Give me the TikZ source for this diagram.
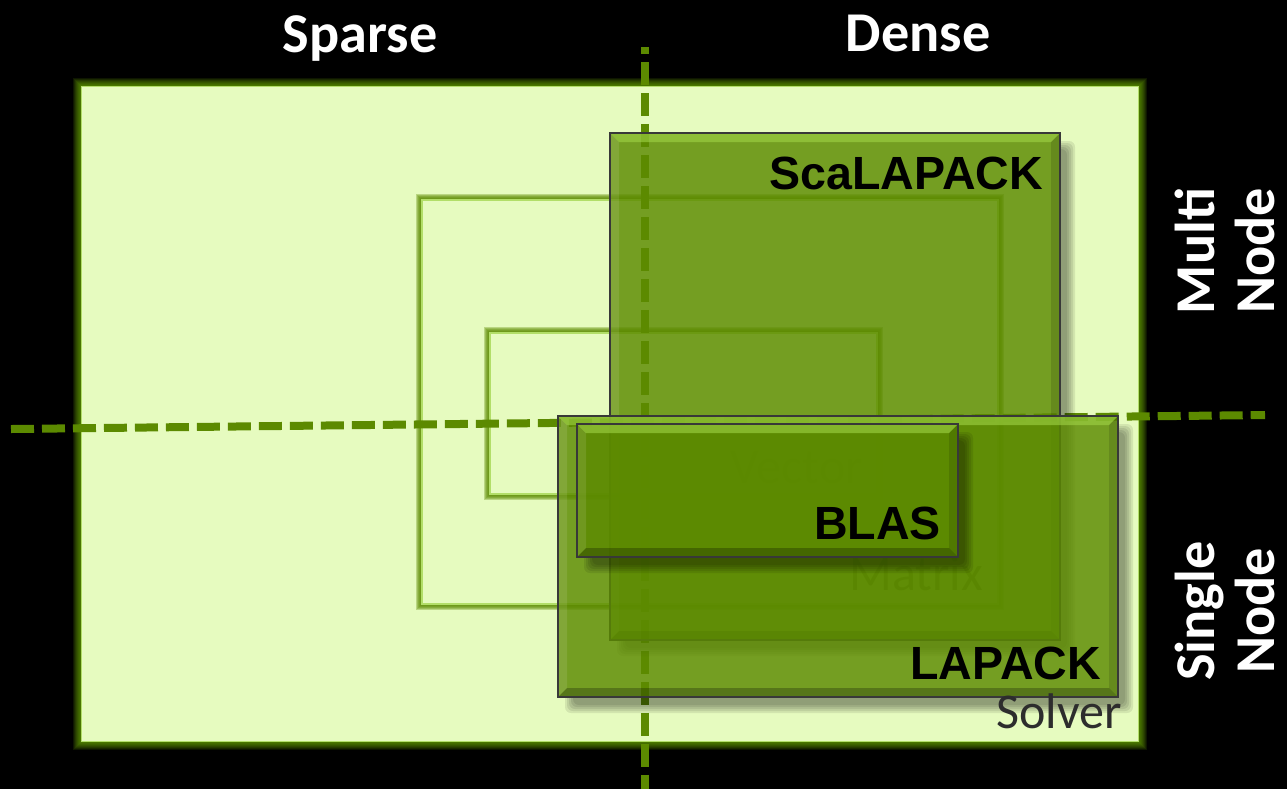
\documentclass[tikz,border=0pt]{standalone}
\usepackage{fontspec}
\newfontfamily\calfont{Carlito}
\newfontfamily\arialfont{Liberation Sans}
\usetikzlibrary{calc, fit}
\definecolor{nvgreen}{RGB}{118,185,0}
\definecolor{nvdark}{RGB}{92,138,0}
\definecolor{palegreen}{RGB}{230,251,191}
\definecolor{rimline}{RGB}{178,222,104}
\definecolor{bevellight}{RGB}{160,212,70}
\definecolor{labelgray}{RGB}{45,45,45}

% soft glow round a named box: stacked strokes of growing width
\newcommand\glowrect[4][.12]{%
  \foreach \w in {1,...,#4}
    \draw[#3, opacity=#1, line width=0.04cm*\w] (#2.north west) rectangle (#2.south east);
}

% soft drop shadow (kept outside the box), then the glass box itself
\newcommand\glassbox[3]{%
  \begin{scope}[even odd rule]
    \clip (-20,-20) rectangle (1310,810) #2 rectangle #3;
    \foreach \k in {0,2,4,6,8}
      \fill[black, opacity=.085, rounded corners=0.12cm]
        ($#2+(15-\k,16-\k)$) rectangle ($#3+(7+\k,8+\k)$);
  \end{scope}
  \node[glass, fit={#2 #3}] (#1) {};
}

\begin{document}
\begin{tikzpicture}[
    x=0.02cm, y=-0.02cm,
    area/.style={inner sep=0pt},
    lightfill/.style={fill=palegreen},
    glass/.style={draw=black!78, line width=1.4pt, fill=nvdark, fill opacity=.82,
      inner sep=0pt,
      path picture={
        \coordinate (nw) at (path picture bounding box.north west);
        \coordinate (ne) at (path picture bounding box.north east);
        \coordinate (se) at (path picture bounding box.south east);
        \coordinate (sw) at (path picture bounding box.south west);
        \fill[bevellight, opacity=.6] (nw) -- (ne) -- ($(ne)+(-9,9)$) -- ($(nw)+(9,9)$) -- cycle;
        \fill[white, opacity=.1] (nw) -- ($(nw)+(9,9)$) -- ($(sw)+(9,-9)$) -- (sw) -- cycle;
        \fill[black, opacity=.25] (sw) -- (se) -- ($(se)+(-9,-9)$) -- ($(sw)+(9,-9)$) -- cycle;
        \fill[black, opacity=.12] (ne) -- (se) -- ($(se)+(-9,-9)$) -- ($(ne)+(-9,9)$) -- cycle;
      }},
    boxlabel/.style={anchor=base east, inner sep=0pt, text=black,
      font=\arialfont\bfseries\fontsize{26.5}{30}\selectfont},
    faintlabel/.style={anchor=base east, inner sep=0pt, text=labelgray,
      font=\calfont\fontsize{28.5}{32}\selectfont},
    axislabel/.style={inner sep=0pt, text=white, align=center,
      font=\calfont\bfseries\fontsize{32}{34}\selectfont},
    axisline/.style={draw=nvdark, line width=0.16cm, dash pattern=on 0.46cm off 0.16cm}
]
\useasboundingbox (0,0) rectangle (1287,789);
\fill[black] (0,0) rectangle (1287,789);

% solver region with its green halo
\path node[area, fit={(82,87) (1138,741)}] (solver) {};
\glowrect{solver}{nvgreen}{9}
\draw[lightfill, draw=rimline, line width=0.6pt] (solver.north west) rectangle (solver.south east);

% matrix and vector regions inside it
\path node[area, fit={(422,200) (998,604)}] (mat) {};
\glowrect[.32]{mat}{nvdark}{6}
\draw[lightfill, draw=rimline, line width=1pt] (mat.north west) rectangle (mat.south east);
\node[faintlabel] (matlabel) at ($(mat.south east)+(-15,-14)$) {Matrix};
\path node[area, fit={(490,333) (877,494)}] (vec) {};
\glowrect[.32]{vec}{nvdark}{6}
\draw[lightfill, draw=rimline, line width=1pt] (vec.north west) rectangle (vec.south east);
\node[faintlabel] (veclabel) at ($(vec.south east)+(-14,-11)$) {Vector};

% sparse/dense and single/multi split
\coordinate (vtop) at (645,47);
\coordinate (vbot) at (645,789);
\coordinate (hleft) at (11,429);
\coordinate (hright) at (1265,415);
\draw[axisline, dash phase=0.32cm] (vtop) -- (vbot);
\draw[axisline] (hleft) -- (hright);

% libraries
\glassbox{scalapack}{(610,133)}{(1060,640)}
\node[boxlabel] (scalabel) at ($(scalapack.north east)+(-18,58)$) {ScaLAPACK};
\glassbox{lapack}{(558,416)}{(1118,697)}
\node[boxlabel] (lalabel) at ($(lapack.south east)+(-18,-19)$) {LAPACK};
\glassbox{blas}{(577,424)}{(958,557)}
\node[boxlabel] (blaslabel) at ($(blas.south east)+(-18,-19)$) {BLAS};
\node[faintlabel] (sollabel) at ($(solver.south east)+(-16,-13)$) {Solver};

\node[axislabel, anchor=base] (sparse) at (360,52) {Sparse};
\node[axislabel, anchor=base] (dense) at (918,51) {Dense};
\node[axislabel, rotate=90] (multi) at (1225,251) {Multi\\Node};
\node[axislabel, rotate=90] (single) at (1225,611) {Single\\Node};
\end{tikzpicture}
\end{document}
